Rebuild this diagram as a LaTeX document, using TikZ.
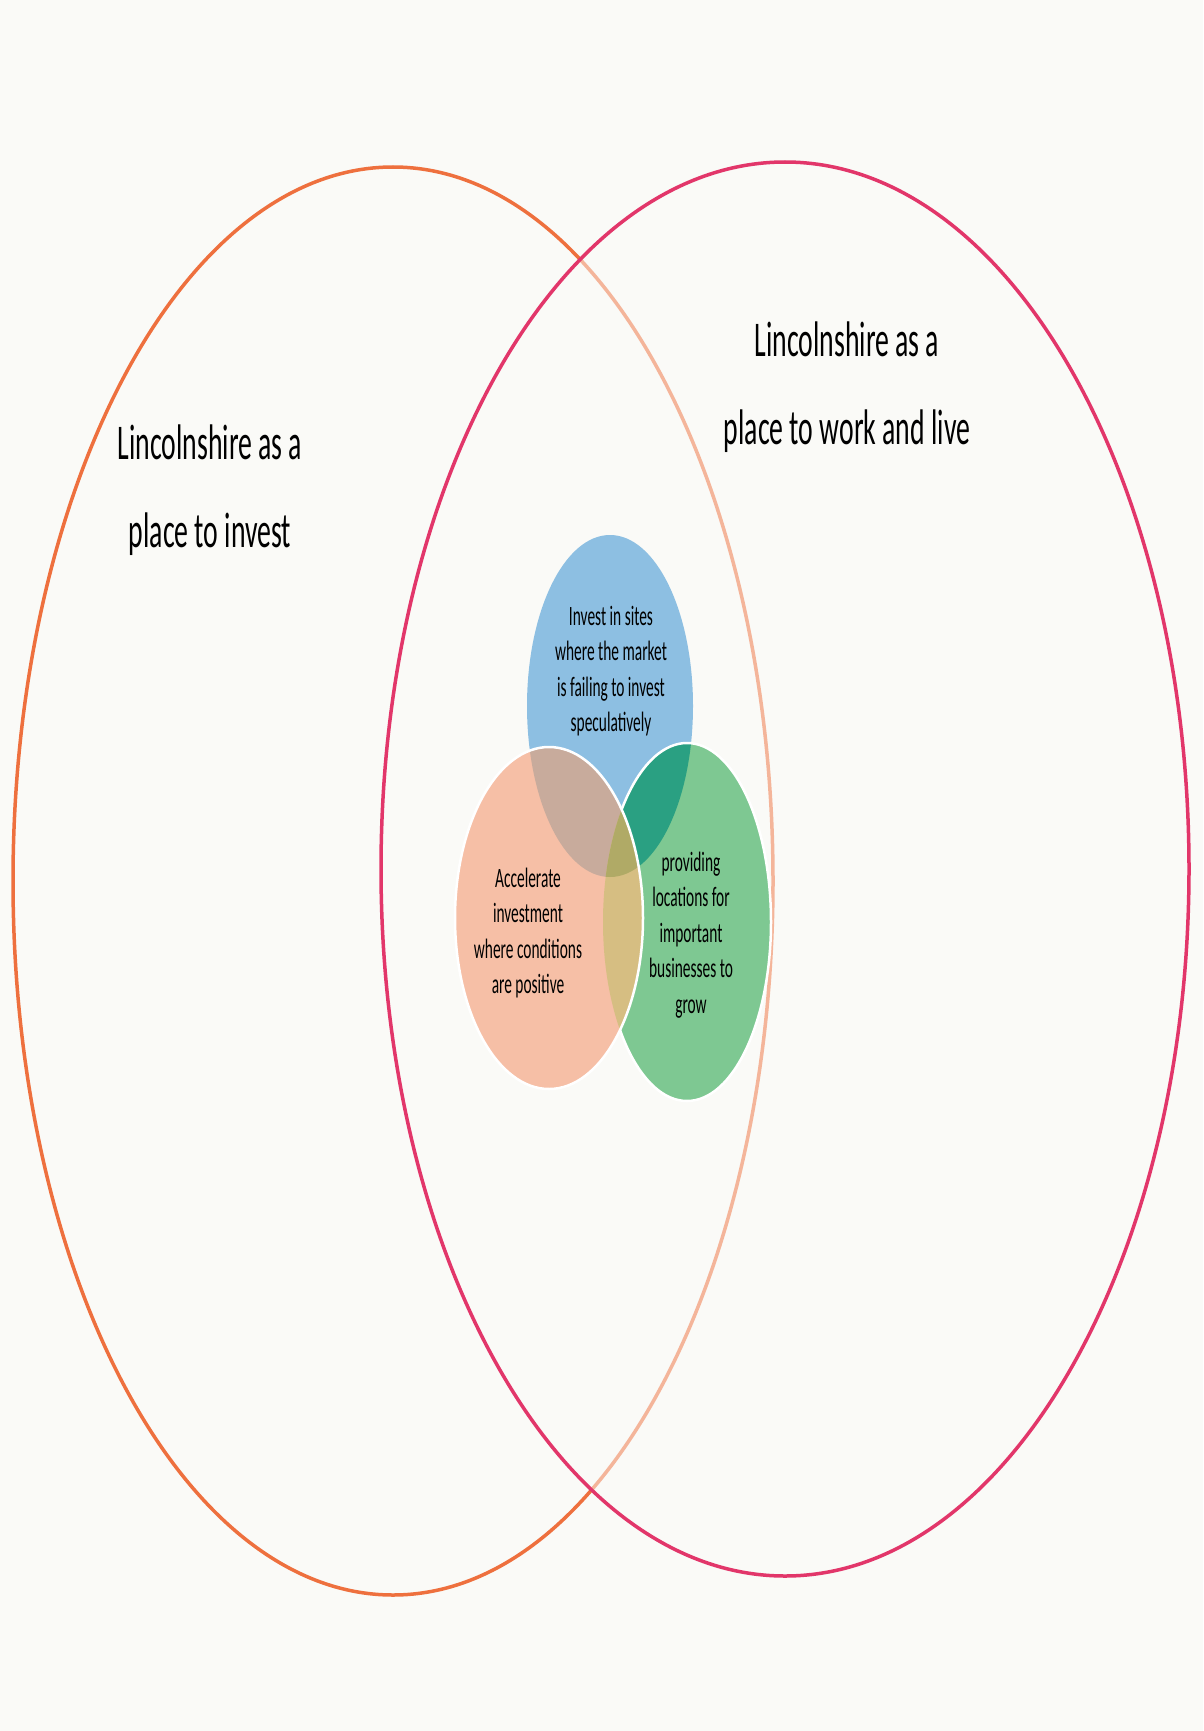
\documentclass[tikz,border=0pt]{standalone}
\usepackage{fontspec}
\setmainfont{Carlito}
\usetikzlibrary{positioning}

\begin{document}
\begin{tikzpicture}[x=1pt, y=-1pt]
        % colours
        \definecolor{paper}{RGB}{250,250,247}
        \definecolor{investline}{RGB}{238,112,62}
        \definecolor{liveline}{RGB}{226,54,106}
        \definecolor{bluefill}{RGB}{141,191,226}
        \definecolor{peachfill}{RGB}{246,191,166}
        \definecolor{greenfill}{RGB}{126,200,146}
        \definecolor{tealfill}{RGB}{42,160,130}
        \definecolor{mauvefill}{RGB}{200,171,156}
        \definecolor{tanfill}{RGB}{214,190,130}
        \definecolor{olivefill}{RGB}{176,170,102}

        % common styles
        \tikzset{
            bigline/.style={line width=3.5pt},
            rim/.style={draw=white, line width=2.5pt},
            bigtext/.style={font=\fontsize{50}{88}\selectfont, align=center, xscale=0.555, transform shape, inner sep=0pt},
            smalltext/.style={font=\fontsize{28}{35.5}\selectfont, align=center, xscale=0.55, transform shape, inner sep=0pt}
        }

        % the five sets (pixel coordinates, y going down)
        \def\investset{(393,881) ellipse [x radius=380, y radius=714]}
        \def\liveset{(785,869) ellipse [x radius=404, y radius=707]}
        \def\sitesset{(610,706) ellipse [x radius=83, y radius=171]}
        \def\accelset{(549,918) ellipse [x radius=94, y radius=171]}
        \def\growset{(687,922) ellipse [x radius=84, y radius=179]}

        \fill[paper] (0,0) rectangle (1203,1731);

        % --- big sets ---
        \draw[bigline, investline] \investset;
        \fill[paper, opacity=0.5] \liveset;
        \draw[bigline, liveline] \liveset;

        % --- small sets: blue, then green, then peach ---
        \fill[bluefill] \sitesset;
        \fill[greenfill] \growset;
        \begin{scope}
            \clip \sitesset;
            \fill[tealfill] \growset;
        \end{scope}
        \draw[rim] \growset;

        \fill[peachfill] \accelset;
        \begin{scope}
            \clip \accelset;
            \fill[mauvefill] \sitesset;
            \fill[tanfill] \growset;
            \clip \sitesset;
            \fill[olivefill] \growset;
        \end{scope}
        \draw[rim] \accelset;

        % --- labels ---
        \node[bigtext] (invest) at (210,490) {Lincolnshire as a\\place to invest};
        \node[bigtext] (live) at (847,387) {Lincolnshire as a\\place to work and live};
        \node[smalltext] (sites) at (611,671) {Invest in sites\\where the market\\is failing to invest\\speculatively};
        \node[smalltext] (accel) at (528,933) {Accelerate\\investment\\where conditions\\are positive};
        \node[smalltext] (grow) at (691,935) {providing\\locations for\\important\\businesses to\\grow};
    \end{tikzpicture}
\end{document}
